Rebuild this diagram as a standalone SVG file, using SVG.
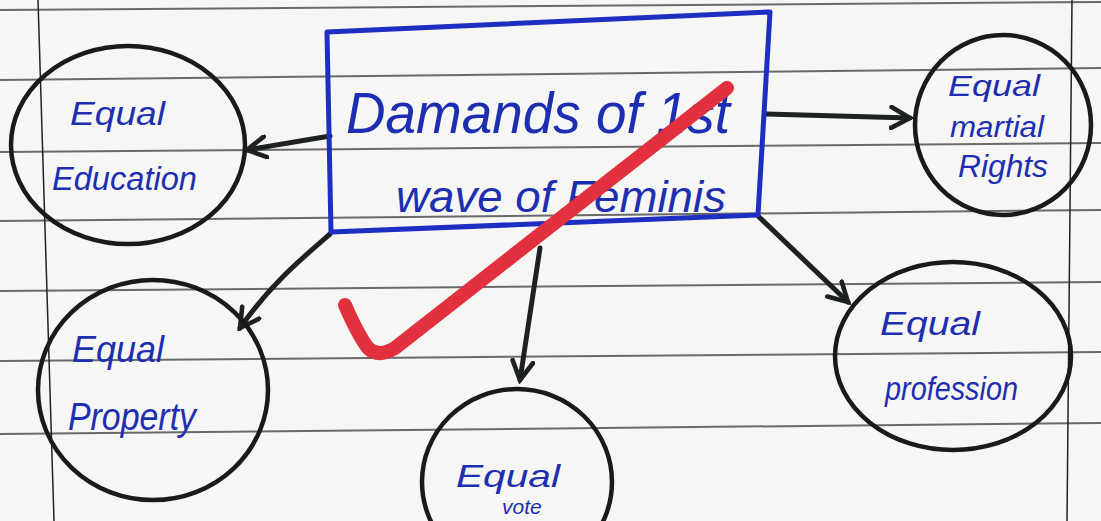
<svg xmlns="http://www.w3.org/2000/svg" width="1101" height="521" viewBox="0 0 1101 521">
<style>
.rule{stroke:#6a6a6a;stroke-width:2;fill:none}
.node{fill:none;stroke:#1a1a1a;stroke-width:4.5}
.hand{font-family:"Liberation Sans",Arial,sans-serif;font-style:italic;fill:#1d2fb0}
.conn{stroke:#1e221e;stroke-width:5;fill:none;stroke-linecap:round}
</style>
<defs>
<marker id="arr" viewBox="0 0 12 12" refX="10" refY="6" markerWidth="5" markerHeight="5" orient="auto" markerUnits="strokeWidth">
<path d="M1,1 L10,6 L1,11" fill="none" stroke="#1e221e" stroke-width="2.2" stroke-linecap="round"/>
</marker>
</defs>
<rect width="1101" height="521" fill="#f6f6f4"/>
<g id="paper">
<path class="rule" d="M0,10 L1101,2"/>
<path class="rule" d="M0,80 L1101,68"/>
<path class="rule" d="M0,152 L1101,143"/>
<path class="rule" d="M0,221 L1101,210"/>
<path class="rule" d="M0,291 L1101,282"/>
<path class="rule" d="M0,361 L1101,352"/>
<path class="rule" d="M0,434 L1101,423"/>
<path d="M38,0 L54,521" stroke="#222" stroke-width="1.5"/>
<path d="M1072,0 L1067,521" stroke="#222" stroke-width="1.5"/>
</g>
<g id="connectors">
<path class="conn" d="M330,136 L247,150" marker-end="url(#arr)"/>
<path class="conn" d="M330,234 C300,260 270,285 240,328" marker-end="url(#arr)"/>
<path class="conn" d="M540,248 L520,380" marker-end="url(#arr)"/>
<path class="conn" d="M766,114 L910,118" marker-end="url(#arr)"/>
<path class="conn" d="M758,216 L848,302" marker-end="url(#arr)"/>
</g>
<g id="center">
<path d="M327,32 L770,12 L758,215 L331,232 Z" fill="none" stroke="#1d2fc0" stroke-width="5" stroke-linejoin="round"/>
<text class="hand" x="346" y="133" font-size="58" textLength="384" lengthAdjust="spacingAndGlyphs">Damands of 1st</text>
<text class="hand" x="396" y="212" font-size="44" textLength="330" lengthAdjust="spacingAndGlyphs">wave of Feminis</text>
</g>
<g id="education">
<ellipse class="node" cx="128" cy="145" rx="117" ry="99"/>
<text class="hand" x="70" y="125" font-size="34" textLength="95" lengthAdjust="spacingAndGlyphs">Equal</text>
<text class="hand" x="52" y="190" font-size="34" textLength="145" lengthAdjust="spacingAndGlyphs">Education</text>
</g>
<g id="property">
<ellipse class="node" cx="153" cy="390" rx="115" ry="110"/>
<text class="hand" x="72" y="362" font-size="36" textLength="92" lengthAdjust="spacingAndGlyphs">Equal</text>
<text class="hand" x="68" y="430" font-size="38" textLength="128" lengthAdjust="spacingAndGlyphs">Property</text>
</g>
<g id="vote">
<ellipse class="node" cx="517" cy="482" rx="95" ry="93"/>
<text class="hand" x="456" y="487" font-size="32" textLength="104" lengthAdjust="spacingAndGlyphs">Equal</text>
<text class="hand" x="502" y="514" font-size="21">vote</text>
</g>
<g id="rights">
<ellipse class="node" cx="1003" cy="125" rx="88" ry="90"/>
<text class="hand" x="948" y="96" font-size="30" textLength="92" lengthAdjust="spacingAndGlyphs">Equal</text>
<text class="hand" x="950" y="137" font-size="30" textLength="94" lengthAdjust="spacingAndGlyphs">martial</text>
<text class="hand" x="958" y="177" font-size="32" textLength="90" lengthAdjust="spacingAndGlyphs">Rights</text>
</g>
<g id="profession">
<ellipse class="node" cx="953" cy="356" rx="118" ry="94"/>
<text class="hand" x="880" y="335" font-size="34" textLength="100" lengthAdjust="spacingAndGlyphs">Equal</text>
<text class="hand" x="885" y="400" font-size="34" textLength="133" lengthAdjust="spacingAndGlyphs">profession</text>
</g>
<g id="check">
<path d="M345,305 Q358,335 368,348 Q378,358 395,348 L727,88" fill="none" stroke="#e2303f" stroke-width="14" stroke-linecap="round" stroke-linejoin="round"/>
</g>
</svg>
